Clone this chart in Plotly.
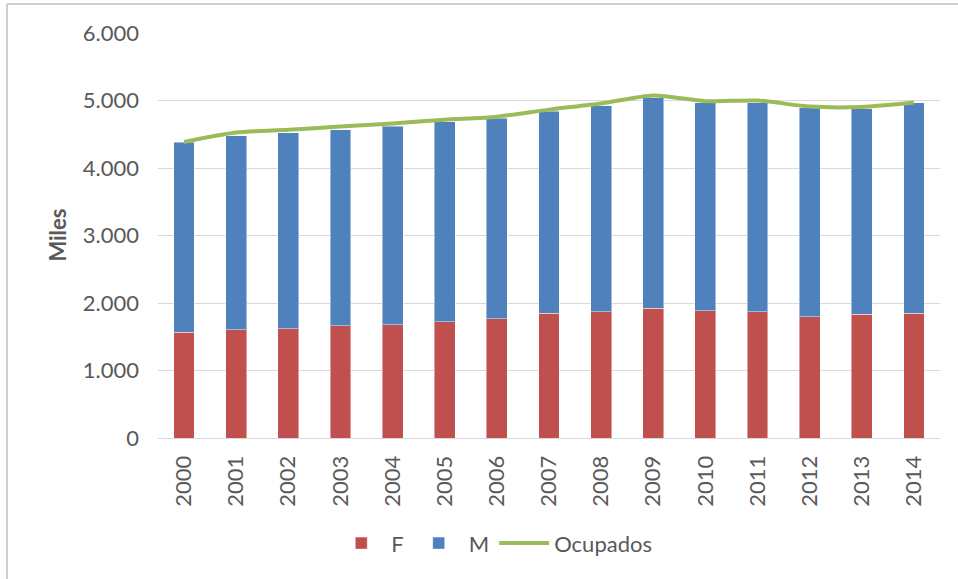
import plotly.graph_objects as go

years = ["2000", "2001", "2002", "2003", "2004", "2005", "2006", "2007",
         "2008", "2009", "2010", "2011", "2012", "2013", "2014"]
f_vals = [1565, 1605, 1620, 1665, 1680, 1720, 1770, 1850, 1870, 1925, 1885, 1870, 1795, 1830, 1850]
m_vals = [2815, 2875, 2900, 2905, 2935, 2965, 2965, 2990, 3055, 3115, 3080, 3100, 3095, 3050, 3115]
ocupados = [4385, 4525, 4565, 4615, 4660, 4715, 4760, 4865, 4955, 5075, 4990, 5000, 4910, 4905, 4970]
y_ticks = [0, 1000, 2000, 3000, 4000, 5000, 6000]

TXT = "#595959"
GRID = "#D9D9D9"
FONT = "Lato"

fig = go.Figure()
fig.add_trace(go.Bar(x=years, y=f_vals, name="F",
                     marker=dict(color="#C0504D", line=dict(color="rgba(255,255,255,0.45)", width=1))))
fig.add_trace(go.Bar(x=years, y=m_vals, name="M",
                     marker=dict(color="#4F81BD", line=dict(color="rgba(255,255,255,0.45)", width=1))))
fig.add_trace(go.Scatter(x=years, y=ocupados, name="Ocupados", mode="lines",
                         line=dict(color="#9BBB59", width=4, shape="spline", smoothing=0.7)))

fig.update_layout(
    width=958, height=579,
    barmode="stack", bargap=0.6,
    separators=",.",
    paper_bgcolor="white", plot_bgcolor="white",
    margin=dict(l=158, r=18, t=33, b=141),
    font=dict(family=FONT, color=TXT, size=20),
    showlegend=True,
    legend=dict(orientation="h", x=0.43, xanchor="center", y=-0.26, yanchor="middle",
                font=dict(size=22, color=TXT), itemwidth=50, traceorder="normal"),
    xaxis=dict(type="category", tickangle=-90, showgrid=False, showline=True,
               linecolor=GRID, linewidth=1, ticks="", ticklabelstandoff=8,
               tickfont=dict(size=22, color=TXT)),
    yaxis=dict(range=[0, 6000], tickvals=y_ticks, tickformat=",d", showgrid=True,
               gridcolor=GRID, gridwidth=1.3, zeroline=True, zerolinecolor=GRID,
               zerolinewidth=1.3, ticks="", ticklabelstandoff=18,
               tickfont=dict(size=22, color=TXT)),
    annotations=[
        dict(text="<b>Miles</b>", xref="paper", yref="paper", x=-0.129, y=0.5,
             xanchor="center", yanchor="middle", textangle=-90, showarrow=False,
             font=dict(size=22, color=TXT, family=FONT)),
        dict(text="<b>Ocupados: total y por género</b>", xref="paper", yref="paper",
             x=0.3645, y=(438 - 2) / 405, xanchor="center", yanchor="bottom",
             showarrow=False, font=dict(size=27, color="black", family="Liberation Sans")),
    ],
    shapes=[
        dict(type="line", xref="paper", yref="paper", x0=-0.1931, x1=1.03,
             y0=(438 - 4) / 405, y1=(438 - 4) / 405, line=dict(color="#D0D0D0", width=2)),
        dict(type="line", xref="paper", yref="paper", x0=-0.1931, x1=-0.1931,
             y0=(438 - 4) / 405, y1=-0.36, line=dict(color="#D0D0D0", width=2)),
    ],
)

fig.write_html("out.html", config={"displayModeBar": False},
               post_script="document.body.style.margin='0';")
